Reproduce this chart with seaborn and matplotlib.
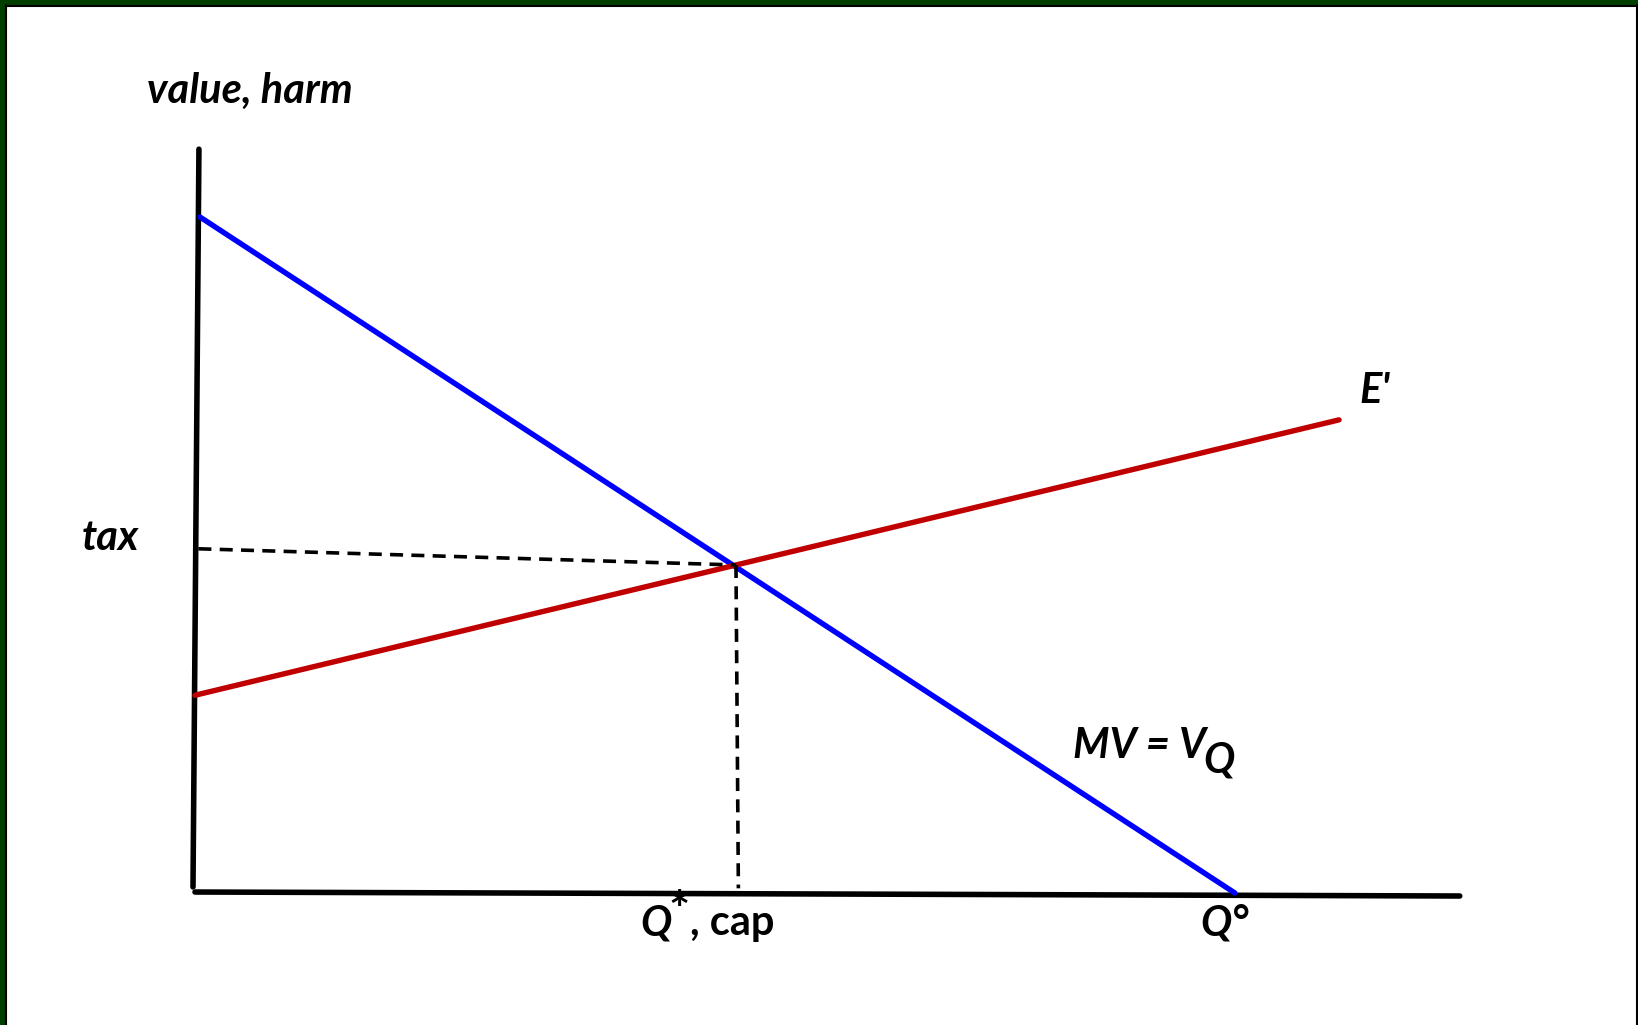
import matplotlib
matplotlib.use("Agg")
import matplotlib.pyplot as plt
from matplotlib.patches import Rectangle
from matplotlib.lines import Line2D
import seaborn as sns

# --- data (Q on the x axis, value/harm on the y axis) ---
mv_q = [0.48, 99.9]          # marginal value line MV = V_Q
mv_v = [99.85, -0.3]
ep_q = [0.0, 109.9]          # marginal harm line E'
ep_v = [29.0, 69.8]
q_star = [51.97, 52.2]       # optimal quantity / cap
tax_v = [50.7, 48.3]         # tax level
yaxis_q = [0.38, -0.19]
yaxis_v = [109.9, 0.6]
xaxis_q = [0.0, 121.5]
xaxis_v = [-0.15, -0.74]

sns.set_theme(style="white")
plt.rcParams['font.family'] = ['Lato', 'DejaVu Sans']

fig = plt.figure(figsize=(16.38, 10.25), dpi=100)
fig.patch.set_facecolor("white")
ax = fig.add_axes([0, 0, 1, 1])
ax.set_xlim(-18.73, 138.62)
ax.set_ylim(-19.85, 132.0)
ax.axis("off")

# axes drawn by hand
sns.lineplot(x=yaxis_q, y=yaxis_v, ax=ax, color="black", lw=4.0,
             estimator=None, sort=False)
sns.lineplot(x=xaxis_q, y=xaxis_v, ax=ax, color="black", lw=4.0,
             estimator=None, sort=False)

# curves
sns.lineplot(x=mv_q, y=mv_v, ax=ax, color="#0000FF", lw=3.9,
             estimator=None, sort=False)
sns.lineplot(x=ep_q, y=ep_v, ax=ax, color="#C00000", lw=3.9,
             estimator=None, sort=False)

# dashed guides
ax.plot([yaxis_q[0] - 0.05, q_star[0]], tax_v, color="black", lw=2.6,
        dashes=(3.6, 2.3))
ax.plot(q_star, [tax_v[1], 0.4], color="black", lw=2.6, dashes=(3.6, 2.3))

lbl = dict(fontsize=30, fontweight="bold", color="black")
ax.text(-4.61, 116.7, "value, harm", style="italic", ha="left", va="baseline", **lbl)
ax.text(-10.85, 50.5, "tax", style="italic", ha="left", va="baseline", **lbl)
ax.text(111.9, 72.3, "E'", style="italic", ha="left", va="baseline", **lbl)
ax.text(84.34, 19.7, "MV = V", style="italic", ha="left", va="baseline", **lbl)
ax.text(96.83, 17.6, "Q", style="italic", ha="left", va="baseline", **lbl)
ax.text(42.75, -6.52, "Q", style="italic", ha="left", va="baseline", **lbl)
ax.text(46.5, -3.2, "*", ha="center", va="center", fontsize=36,
        fontweight="bold", color="black")
ax.text(47.55, -6.52, ", cap", ha="left", va="baseline", **lbl)
ax.text(96.54, -6.52, "Q°", style="italic", ha="left", va="baseline", **lbl)

# slide frame: dark green edge on top/left, thin black rule inside
W, H = 1638.0, 1025.0
fig.add_artist(Rectangle((0, 1 - 5 / H), 1, 5 / H, transform=fig.transFigure,
                         facecolor="#003f00", edgecolor="none"))
fig.add_artist(Rectangle((0, 0), 5 / W, 1, transform=fig.transFigure,
                         facecolor="#003f00", edgecolor="none"))
for xs, ys in [([5.5 / W, 1], [1 - 6 / H, 1 - 6 / H]),
               ([6 / W, 6 / W], [0, 1 - 5 / H]),
               ([1636.5 / W, 1636.5 / W], [0, 1 - 5 / H])]:
    fig.add_artist(Line2D(xs, ys, transform=fig.transFigure, color="black", lw=1.5))

fig.savefig("out.png", dpi=100)
